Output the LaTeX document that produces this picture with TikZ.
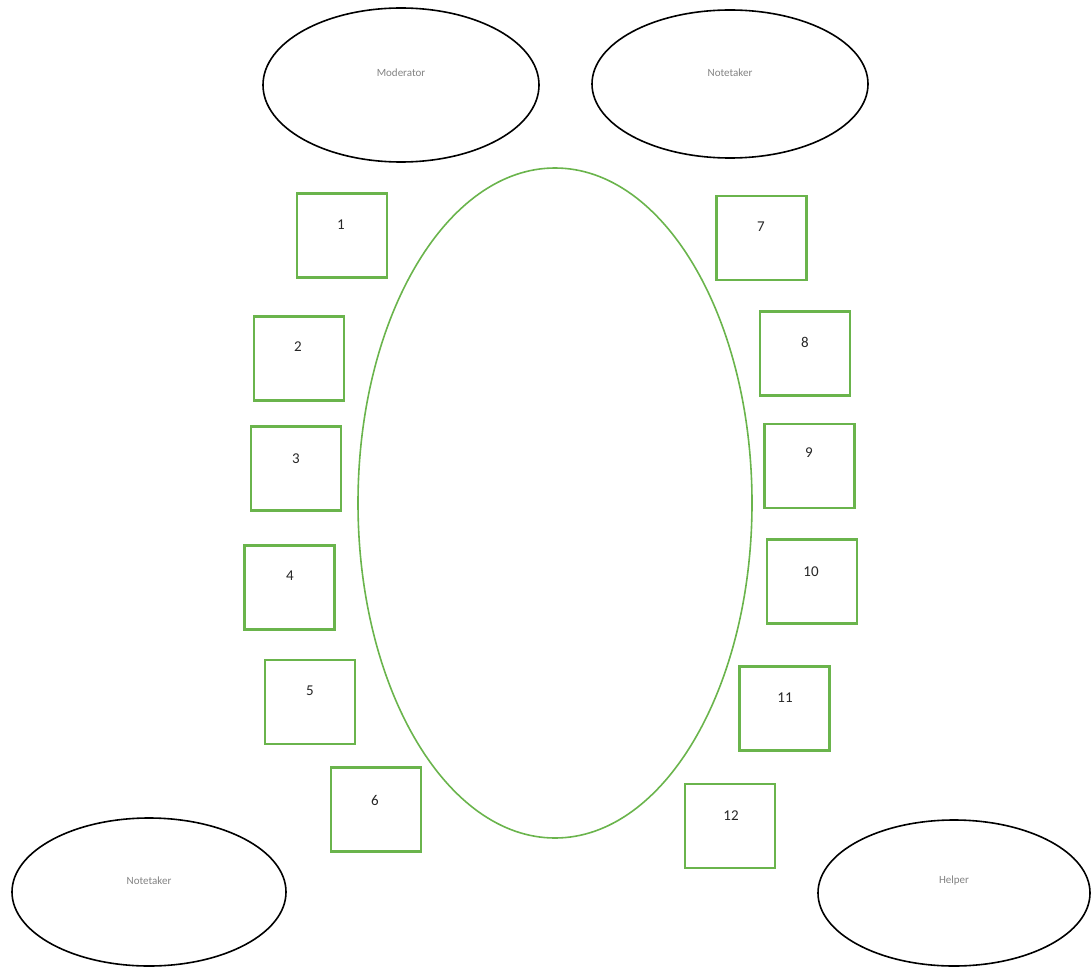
\documentclass[tikz,border=0pt]{standalone}
\usepackage{fontspec}
\setmainfont{Carlito}
\usetikzlibrary{shapes.geometric}
\definecolor{seatgreen}{RGB}{106,180,76}
\definecolor{labgray}{RGB}{130,130,130}
\tikzset{
  role/.style={draw=black, line width=1.6pt, ellipse, inner sep=0pt},
  roletext/.style={font=\fontsize{11}{12}\selectfont, text=labgray, inner sep=0pt},
  seat/.style={draw=seatgreen, line width=2.2pt, minimum width=90pt, minimum height=84pt, inner sep=0pt},
  num/.style={anchor=center, font=\fontsize{15}{16}\selectfont, text=black!85},
}
\begin{document}
\begin{tikzpicture}[x=1pt,y=-1pt]
\useasboundingbox (0,0) rectangle (1091,968);
\node[role, minimum width=276pt, minimum height=154pt] (mod) at (401,85) {};
\node[role, minimum width=276pt, minimum height=148pt] (nt1) at (730,84) {};
\node[role, minimum width=274pt, minimum height=148pt] (nt2) at (149,892) {};
\node[role, minimum width=272pt, minimum height=146pt] (help) at (954,893) {};
\node[roletext] (tmod) at (401,73) {Moderator};
\node[roletext] (tnt1) at (730,73) {Notetaker};
\node[roletext] (tnt2) at (149,881) {Notetaker};
\node[roletext] (thelp) at (954,881) {Helper};
\node[draw=seatgreen, line width=1.6pt, ellipse, minimum width=394pt, minimum height=670pt, inner sep=0pt] (table) at (555,503) {};
% seats
\node[seat] (s1) at (342,235.5) {};
\node[seat] (s2) at (299,358.5) {};
\node[seat] (s3) at (296,468.5) {};
\node[seat] (s4) at (289.5,587.5) {};
\node[seat] (s5) at (310,702) {};
\node[seat] (s6) at (376,809.5) {};
\node[seat] (s7) at (761.5,238) {};
\node[seat] (s8) at (805,353.5) {};
\node[seat] (s9) at (809.5,466) {};
\node[seat] (s10) at (812,581.5) {};
\node[seat] (s11) at (784.5,708.5) {};
\node[seat] (s12) at (730,826) {};
\node[num] (n1) at (341,225) {1};
\node[num] (n2) at (298,347) {2};
\node[num] (n3) at (296,459) {3};
\node[num] (n4) at (290,576) {4};
\node[num] (n5) at (310,691) {5};
\node[num] (n6) at (375,800) {6};
\node[num] (n7) at (761,227) {7};
\node[num] (n8) at (805,342) {8};
\node[num] (n9) at (809,453) {9};
\node[num] (n10) at (811,572) {10};
\node[num] (n11) at (785,698) {11};
\node[num] (n12) at (731,816) {12};
\end{tikzpicture}
\end{document}
